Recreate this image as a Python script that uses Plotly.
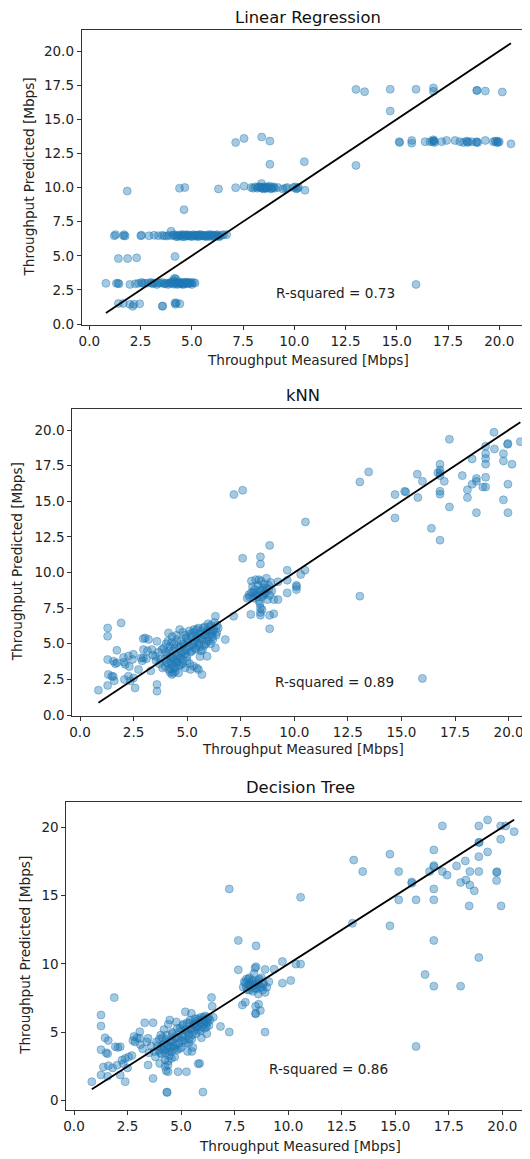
import plotly.graph_objects as go

# ---------------- data ----------------
titles = ["Linear Regression", "kNN", "Decision Tree"]
r2_labels = ["R-squared = 0.73", "R-squared = 0.89", "R-squared = 0.86"]
x_ticks = [0, 2.5, 5, 7.5, 10, 12.5, 15, 17.5, 20]
y_ticks_a = [0, 2.5, 5, 7.5, 10, 12.5, 15, 17.5, 20]
y_ticks_b = [0, 5, 10, 15, 20]

lr_pts = [
    (1.42,1.51),(1.66,1.51),(1.98,1.45),(2.18,1.45),(2.46,1.48),(2.12,1.30),(3.56,1.30),(3.58,1.32),
    (4.18,1.55),(4.20,1.45),(4.25,1.55),(4.42,1.48),
    (0.81,2.98),(1.32,2.98),(1.40,2.98),(1.45,2.95),(1.98,2.90),(2.25,2.95),(2.40,2.98),(2.55,3.05),
    (2.70,2.98),(2.85,3.00),(3.00,3.05),(3.10,2.95),(3.20,3.00),(3.30,2.90),(3.45,3.00),(3.55,3.05),
    (3.65,2.95),(3.75,3.00),(3.85,2.90),(3.95,3.05),(4.05,3.00),(4.10,3.20),(4.16,3.35),(4.20,2.95),
    (4.25,3.05),(4.30,2.90),(4.35,3.10),(4.40,3.00),(4.45,2.95),(4.50,3.05),(4.55,3.00),(4.60,2.90),
    (4.65,3.05),(4.70,3.00),(4.78,2.95),(4.85,3.05),(4.92,3.00),(5.00,2.90),(5.08,3.05),(5.16,3.00),
    (4.28,2.98),(4.38,3.02),(4.48,2.98),(4.58,3.02),(4.68,2.97),(4.88,2.98),(4.98,3.02),(3.90,2.98),
    (4.00,3.02),(4.15,3.10),(4.22,3.30),(3.70,2.95),(3.35,3.00),(3.05,3.00),(2.60,2.98),(4.75,3.08),
    (4.52,2.92),(4.12,2.92),
    (1.42,4.80),(1.87,4.80),(2.31,4.85),(4.18,4.95),
    (1.22,6.47),(1.28,6.55),(1.66,6.47),(1.70,6.55),(1.75,6.45),(2.51,6.47),(2.55,6.50),(2.91,6.47),
    (3.16,6.50),(3.37,6.47),(3.56,6.50),(3.78,6.45),(3.99,6.80),(4.05,6.47),(4.18,6.55),(4.25,6.40),
    (4.32,6.50),(4.40,6.47),(4.48,6.55),(4.55,6.40),(4.62,6.50),(4.70,6.47),(4.78,6.55),(4.85,6.45),
    (4.92,6.50),(5.00,6.40),(5.08,6.55),(5.15,6.47),(5.22,6.50),(5.30,6.40),(5.38,6.47),(5.45,6.55),
    (5.52,6.45),(5.60,6.50),(5.68,6.40),(5.75,6.47),(5.82,6.55),(5.90,6.45),(5.98,6.50),(6.05,6.40),
    (6.12,6.47),(6.20,6.50),(6.28,6.45),(6.35,6.40),(6.45,6.50),(6.55,6.55),(6.70,6.55),
    (4.82,6.47),(4.95,6.45),(5.05,6.50),(5.18,6.45),(5.28,6.50),(5.42,6.45),(5.55,6.50),(5.65,6.45),
    (5.78,6.50),(5.85,6.42),(5.95,6.55),(6.08,6.50),(6.15,6.42),(6.25,6.55),(6.32,6.45),(4.45,6.45),
    (4.58,6.55),(4.65,6.40),(4.75,6.50),(4.30,6.42),(4.10,6.52),(3.88,6.50),(3.65,6.45),(5.35,6.55),
    (4.62,8.38),(1.85,9.74),(4.40,9.95),(4.66,10.00),(6.30,9.90),
    (7.14,9.99),(7.55,10.10),(7.90,10.00),(8.00,9.95),(8.10,10.05),(8.20,9.95),(8.30,10.00),(8.40,10.30),
    (8.45,10.00),(8.50,9.90),(8.55,10.05),(8.65,9.95),(8.75,10.00),(8.80,10.10),(8.85,9.90),(8.95,10.00),
    (9.05,9.95),(9.20,10.00),(9.45,9.90),(9.65,10.00),(9.95,10.00),(10.10,9.90),(10.20,10.00),(10.52,9.80),
    (8.35,10.05),(8.42,9.95),(8.60,10.00),(8.70,10.05),(8.90,9.95),(8.58,9.95),(8.25,10.05),(9.00,10.05),
    (10.05,10.05),(10.15,9.95),(9.58,9.95),
    (8.81,11.70),(10.49,11.89),(13.01,11.62),
    (7.14,13.30),(7.55,13.60),(8.41,13.70),(8.81,13.40),
    (15.12,13.36),(15.14,13.30),(15.73,13.45),(15.73,13.25),(16.38,13.36),(16.62,13.36),(16.78,13.50),
    (16.80,13.40),(16.85,13.30),(17.19,13.36),(17.43,13.45),(17.84,13.45),(18.08,13.36),(18.25,13.30),
    (18.40,13.40),(18.49,13.36),(18.65,13.36),(18.90,13.36),(18.95,13.30),(19.32,13.45),(19.71,13.36),
    (19.80,13.40),(19.87,13.30),(20.00,13.36),(20.57,13.20),
    (16.75,13.36),(16.82,13.42),(18.88,13.30),(19.90,13.40),(19.95,13.30),(18.45,13.30),
    (13.01,17.19),(13.43,17.02),(14.68,17.20),(14.68,15.60),(15.94,17.20),(16.79,17.30),(16.79,17.05),
    (18.90,17.10),(18.92,17.12),(19.32,17.07),(20.15,17.00),
    (15.94,2.90),
]

knn_pts = [
    (0.86,1.74),(1.29,2.07),(1.32,2.84),(1.29,6.11),(1.29,5.53),(1.92,6.46),(1.29,3.89),(1.56,3.78),
    (1.72,3.67),(1.72,4.54),(1.48,2.72),(1.60,2.40),(2.07,2.49),(2.26,2.72),(2.03,4.04),(2.26,4.14),
    (2.49,4.26),(2.11,3.55),(2.30,3.40),(2.57,1.90),(2.50,2.60),(2.73,3.19),(2.96,4.59),(2.96,4.00),
    (3.04,5.41),(3.20,5.30),(2.90,3.80),(3.10,3.95),(3.30,3.10),(3.40,4.20),(3.59,5.17),(3.59,2.14),
    (3.59,1.67),(3.52,4.12),(3.70,3.60),(3.82,4.59),(3.85,3.30),
    (3.95,3.95),(4.00,4.40),(4.05,3.70),(4.10,5.20),(4.13,5.76),(4.15,3.20),(4.20,4.80),(4.20,3.00),
    (4.25,4.10),(4.29,2.84),(4.30,5.50),(4.30,3.60),(4.35,4.50),(4.40,3.90),(4.40,5.00),(4.45,3.30),
    (4.50,4.20),(4.50,5.60),(4.55,3.70),(4.60,4.70),(4.60,2.95),(4.65,6.00),(4.65,4.00),(4.70,5.20),
    (4.70,3.50),(4.75,4.40),(4.80,5.80),(4.80,3.90),(4.85,4.90),(4.90,4.30),(4.91,3.31),(4.95,5.40),
    (5.00,4.60),(5.00,3.80),
    (5.05,5.10),(5.10,5.90),(5.15,4.40),(5.20,5.50),(5.25,4.90),(5.30,3.42),(5.30,5.80),(5.35,5.20),
    (5.40,4.70),(5.45,6.00),(5.50,5.40),(5.53,3.19),(5.55,5.00),(5.60,5.70),(5.65,4.50),(5.69,2.84),
    (5.70,5.30),(5.75,6.10),(5.80,4.90),(5.85,5.60),(5.90,5.20),(5.93,4.12),(5.95,5.90),(6.00,5.50),
    (6.05,6.20),(6.10,5.00),(6.15,5.70),(6.20,5.30),(6.25,6.00),(6.32,4.71),(6.32,6.93),(6.35,5.60),
    (6.40,6.30),(6.78,5.29),(7.17,6.93),
    (3.90,4.70),(3.98,3.40),(4.02,5.00),(4.08,4.20),(4.12,3.60),(4.18,4.50),(4.22,3.80),(4.28,5.10),
    (4.32,4.00),(4.38,3.40),(4.42,4.70),(4.48,3.70),(4.52,5.30),(4.58,4.10),(4.62,3.50),(4.68,4.80),
    (4.72,4.20),(4.78,3.60),(4.82,5.00),(4.88,4.50),(4.92,5.60),(4.98,4.10),(5.02,5.30),(5.08,4.80),
    (5.12,3.60),(5.18,5.70),(5.22,4.50),(5.28,5.00),(5.32,6.00),(5.38,4.60),(5.42,5.50),(5.48,5.10),
    (5.52,6.10),(5.58,4.80),(5.62,5.40),(5.68,5.90),(5.72,4.60),(5.78,5.60),(5.82,6.20),(5.88,5.00),
    (5.92,5.80),(5.98,6.40),(6.02,5.20),(6.08,5.90),(6.12,6.30),(6.18,5.50),(6.22,5.90),(6.28,6.50),
    (6.38,5.80),(6.45,6.10),(4.35,2.95),(4.45,3.05),(4.25,3.25),(3.75,3.90),(3.65,4.40),(3.55,3.80),
    (3.35,4.60),(3.15,4.50),(2.95,5.35),(2.85,4.00),(2.45,3.90),(2.05,3.70),(1.65,3.60),(1.55,2.70),
    (2.35,2.40),(5.45,3.30),(5.60,4.10),(5.15,3.20),
    (7.59,11.00),(7.88,8.44),(7.97,7.06),(7.90,8.30),(8.00,8.60),(8.05,9.00),(8.10,8.20),(8.15,8.80),
    (8.20,9.50),(8.25,8.50),(8.30,9.10),(8.35,8.00),(8.40,8.70),(8.42,7.50),(8.42,7.00),(8.42,7.20),
    (8.42,10.60),(8.42,11.10),(8.45,9.40),(8.50,8.30),(8.55,8.90),(8.60,9.20),(8.65,8.50),(8.70,9.60),
    (8.75,8.10),(8.80,8.80),(8.85,6.05),(8.85,7.00),(8.85,11.90),(8.90,9.30),(9.04,8.10),(9.24,8.10),
    (9.04,7.10),(9.24,9.35),(9.67,9.46),(9.67,8.57),(9.67,10.16),(10.10,9.10),(10.10,8.80),(10.10,9.00),
    (10.30,9.86),(10.50,10.16),
    (8.00,9.40),(8.10,8.60),(8.20,8.40),(8.30,8.30),(8.35,9.50),(8.45,8.80),(8.55,8.40),(8.60,8.60),
    (8.70,8.90),(8.80,9.10),(8.85,8.40),(8.95,8.70),(8.40,7.80),(8.50,7.40),(7.80,8.20),
    (7.18,15.47),(7.59,15.77),(10.52,13.55),(13.06,16.36),(13.47,17.06),(13.06,8.34),(15.98,2.57),
    (14.70,15.47),(14.70,13.83),(15.15,15.70),(15.20,15.65),(15.77,15.26),(15.74,16.90),(15.98,16.40),
    (16.40,13.10),(16.70,17.00),(16.80,17.60),(16.80,17.20),(16.80,17.00),(16.80,16.80),(16.80,15.70),
    (16.80,15.50),(16.80,12.27),(17.00,16.40),(17.24,14.60),(17.24,19.35),(17.84,16.80),(18.08,15.80),
    (18.08,15.26),(18.30,17.97),(18.30,16.20),(18.50,16.60),(18.50,16.40),(18.50,14.20),(18.80,16.00),
    (18.93,18.86),(18.93,18.34),(18.93,18.00),(18.93,17.60),(18.93,16.68),(18.93,16.00),(19.34,18.67),
    (19.32,19.84),(19.76,18.34),(19.76,17.83),(19.76,15.10),(19.95,19.00),(19.97,19.05),(19.97,16.20),
    (19.97,14.20),(20.16,17.60),(20.55,19.18),
]

dt_pts = [
    (0.83,1.39),(1.26,1.88),(1.26,6.27),(1.26,5.46),(1.88,7.54),(1.26,3.73),(1.45,4.60),(1.60,4.40),
    (1.57,3.44),(1.37,2.46),(1.57,1.78),(1.61,2.56),(1.93,3.95),(2.16,3.95),(2.01,2.60),(2.24,2.97),
    (2.39,1.39),(2.16,1.88),(2.39,3.09),(2.50,2.40),(2.70,3.30),(2.80,4.70),(2.85,4.30),(3.07,4.56),
    (3.07,5.05),(3.30,5.70),(3.69,5.70),(3.46,4.56),(3.46,2.61),(3.69,1.63),(3.20,3.80),(3.50,3.50),
    (3.60,4.00),(3.80,3.20),(3.85,4.30),
    (3.95,3.70),(4.00,2.73),(4.05,4.80),(4.10,3.40),(4.15,4.10),(4.20,5.20),(4.25,3.00),(4.30,4.50),
    (4.33,0.63),(4.35,0.60),(4.35,3.80),(4.39,2.61),(4.39,2.12),(4.40,5.60),(4.45,3.30),(4.47,5.90),
    (4.50,4.30),(4.55,3.60),(4.60,4.90),(4.65,4.00),(4.70,3.20),(4.75,4.60),(4.78,5.76),(4.80,3.70),
    (4.86,2.12),(4.90,4.20),(4.95,5.30),(5.00,3.90),(5.05,4.70),(5.10,5.60),(5.15,4.40),(5.20,6.50),
    (5.25,2.12),(5.25,5.10),(5.30,3.60),(5.35,4.80),(5.40,5.70),(5.45,5.20),(5.48,6.39),(5.50,4.50),
    (5.55,3.90),(5.60,5.50),(5.65,6.00),(5.70,4.90),(5.75,5.40),(5.80,2.70),(5.85,5.90),(5.87,2.73),
    (5.90,5.10),(5.95,4.60),(6.00,5.70),(6.02,0.63),(6.05,6.10),(6.10,5.30),(6.15,5.80),(6.20,4.90),
    (6.25,6.00),(6.30,5.50),(6.42,7.55),(6.45,6.90),(6.50,6.10),(6.84,5.43),(7.25,5.02),
    (3.90,4.00),(3.98,4.50),(4.02,3.50),(4.08,3.90),(4.12,4.60),(4.18,3.70),(4.22,4.20),(4.28,3.50),
    (4.32,4.80),(4.38,4.00),(4.42,3.60),(4.48,4.40),(4.52,3.90),(4.58,5.00),(4.62,4.30),(4.68,3.80),
    (4.72,4.70),(4.78,4.10),(4.82,5.30),(4.88,4.60),(4.92,3.80),(4.98,5.10),(5.02,4.40),(5.08,5.50),
    (5.12,4.80),(5.18,5.20),(5.22,4.20),(5.28,5.70),(5.32,5.00),(5.38,4.50),(5.42,5.90),(5.48,5.30),
    (5.52,4.80),(5.58,5.60),(5.62,5.10),(5.68,5.80),(5.72,5.40),(5.78,6.00),(5.82,5.20),(5.88,5.70),
    (5.92,6.10),(5.98,5.40),(6.02,5.90),(6.08,5.60),(6.12,6.20),(6.18,5.40),(6.22,5.70),(6.28,6.10),
    (6.35,5.90),(4.25,2.50),(4.30,2.20),(4.40,2.90),(4.55,3.10),(3.75,3.60),(3.40,4.30),(3.10,4.10),
    (2.95,4.60),(2.75,4.40),(2.55,3.20),(2.05,3.90),(1.50,3.50),(1.80,2.40),(2.30,2.70),(5.50,3.60),
    (5.35,4.20),
    (7.67,11.72),(7.67,9.57),(7.86,7.00),(7.90,8.30),(8.00,8.60),(8.00,7.20),(8.05,8.90),(8.10,8.10),
    (8.15,8.50),(8.20,9.00),(8.25,8.30),(8.30,8.70),(8.35,8.00),(8.40,9.30),(8.45,8.50),(8.48,6.40),
    (8.48,6.35),(8.48,6.90),(8.50,11.33),(8.50,9.80),(8.55,8.20),(8.60,8.80),(8.62,7.05),(8.65,8.40),
    (8.70,6.60),(8.75,9.00),(8.80,8.10),(8.85,8.60),(8.92,7.92),(8.92,5.02),(8.92,9.60),(9.00,8.30),
    (9.10,8.70),(9.34,9.62),(9.73,10.18),(9.73,8.60),(10.12,8.79),(10.36,9.99),(10.58,9.99),
    (8.05,8.30),(8.15,8.90),(8.25,8.50),(8.35,8.80),(8.45,8.20),(8.55,8.60),(8.65,8.90),(8.75,8.30),
    (8.85,8.50),(8.40,8.40),(8.20,8.10),(8.60,7.80),(7.95,8.70),(8.45,9.70),
    (7.25,15.49),(10.58,14.88),(13.06,17.60),(13.48,16.76),(13.00,12.98),(15.97,3.97),
    (14.75,18.03),(14.75,12.79),(15.16,16.76),(15.16,14.69),(15.77,15.90),(15.77,16.00),(15.97,14.69),
    (16.39,9.23),(16.60,16.76),(16.80,18.34),(16.80,17.20),(16.80,17.10),(16.80,15.49),(16.80,14.69),
    (16.80,11.72),(16.80,8.38),(17.20,20.10),(17.20,16.76),(17.42,16.50),(17.86,17.17),(18.05,15.96),
    (18.05,8.38),(18.27,17.54),(18.30,16.15),(18.48,16.76),(18.48,15.78),(18.45,14.25),(18.69,15.35),
    (18.90,20.10),(18.90,18.88),(18.92,18.90),(18.90,17.85),(18.90,16.76),(18.90,10.47),(19.31,20.54),
    (19.31,18.20),(19.73,16.70),(19.75,16.75),(19.73,16.10),(19.92,20.10),(19.92,19.12),(19.94,14.25),
    (20.16,20.10),(20.55,19.68),
]

# ---------------- layout (pixel geometry, page coords) ----------------
PAGE_W, PAGE_H = 530, 1159
OFF = 8                      # default page body margin
W, H = PAGE_W - OFF, PAGE_H - OFF
FONT = "DejaVu Sans"
panels = [
    dict(pts=lr_pts,  left=81.7, top=30.0,  bottom=325.0, xr=[-0.371, 21.5], yr=[-0.07, 21.54],
         yt=y_ticks_a, yfmt=".1f", title_y=17.5, xtitle_y=360, ytitle_x=28),
    dict(pts=knn_pts, left=72.3, top=408.5, bottom=716.0, xr=[-0.36, 21.0], yr=[-0.07, 21.51],
         yt=y_ticks_a, yfmt=".1f", title_y=395, xtitle_y=749, ytitle_x=17),
    dict(pts=dt_pts,  left=66.3, top=801.7, bottom=1110.0, xr=[-0.36, 21.29], yr=[-0.68, 21.87],
         yt=y_ticks_b, yfmt="d", title_y=787, xtitle_y=1146, ytitle_x=25),
]

def px(xp):
    return (xp - OFF) / W

def py(yp):
    return 1 - (yp - OFF) / H

fig = go.Figure()
annotations = []
layout_axes = {}
for i, p in enumerate(panels):
    n = "" if i == 0 else str(i + 1)
    xs = [a for a, b in p["pts"]]
    ys = [b for a, b in p["pts"]]
    fig.add_trace(go.Scatter(
        x=xs, y=ys, mode="markers", xaxis="x" + n, yaxis="y" + n, showlegend=False,
        marker=dict(size=8, color="rgba(31,119,180,0.4)",
                    line=dict(color="rgba(31,119,180,0.4)", width=1)),
    ))
    lo, hi = min(xs), max(xs)
    fig.add_trace(go.Scatter(
        x=[lo, hi], y=[lo, hi], mode="lines", xaxis="x" + n, yaxis="y" + n,
        showlegend=False, line=dict(color="black", width=1.8),
    ))
    axcommon = dict(showgrid=False, zeroline=False, showline=True, linecolor="#333",
                    linewidth=1, ticks="outside", ticklen=4, tickwidth=1, tickcolor="#333",
                    automargin=False,
                    tickfont=dict(family=FONT, size=13.5, color="#222"))
    layout_axes["xaxis" + n] = dict(
        axcommon, domain=[px(p["left"]), 1.0], range=p["xr"], anchor="y" + n,
        tickvals=x_ticks, tickformat=".1f", mirror=True,
    )
    layout_axes["yaxis" + n] = dict(
        axcommon, domain=[py(p["bottom"]), py(p["top"])], range=p["yr"],
        anchor="x" + n, tickvals=p["yt"], tickformat=p["yfmt"],
    )
    xc = (p["left"] + 534) / 2
    annotations.append(dict(text=titles[i], xref="paper", yref="paper", x=px(xc),
                            y=py(p["title_y"]), showarrow=False, xanchor="center",
                            yanchor="middle", borderpad=0,
                            font=dict(family=FONT, size=16.4, color="#111")))
    annotations.append(dict(text="Throughput Measured [Mbps]", xref="paper", yref="paper",
                            x=px(xc), y=py(p["xtitle_y"]), showarrow=False,
                            xanchor="center", yanchor="middle",
                            font=dict(family=FONT, size=13.6, color="#222")))
    annotations.append(dict(text="Throughput Predicted [Mbps]", xref="paper", yref="paper",
                            x=px(p["ytitle_x"]), y=py((p["top"] + p["bottom"]) / 2),
                            showarrow=False, xanchor="center", yanchor="middle", textangle=-90,
                            font=dict(family=FONT, size=13.6, color="#222")))
    annotations.append(dict(text=r2_labels[i], xref="x" + n, yref="y" + n, x=9, y=2.3,
                            showarrow=False, xanchor="left", yanchor="middle",
                            font=dict(family=FONT, size=13.6, color="#222")))

fig.update_layout(
    width=W, height=H, margin=dict(l=0, r=0, t=0, b=0, autoexpand=False),
    paper_bgcolor="white", plot_bgcolor="white",
    font=dict(family=FONT, size=13, color="#222"),
    annotations=annotations, **layout_axes,
)
fig.write_html("out.html")
